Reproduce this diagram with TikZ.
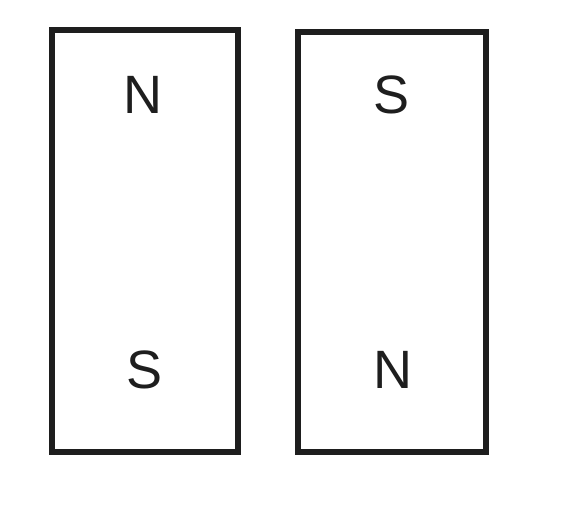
\documentclass[tikz,border=0pt]{standalone}
\usepackage{fontspec}
\setmainfont{Liberation Sans}
\usetikzlibrary{positioning}
\definecolor{magnetdark}{HTML}{1E1E1E}
\tikzset{
  magnet/.style={draw=magnetdark, line width=3pt, fill=white,
                 minimum width=93pt, minimum height=211pt, inner sep=0pt},
  pole/.style={font=\fontsize{27}{30}\selectfont, text=magnetdark},
}
\begin{document}
\begin{tikzpicture}[x=0.5pt, y=-0.5pt]
  \useasboundingbox (0,0) rectangle (568,513);
  \node[magnet] (left) at (144.5,241) {};
  \node[magnet, minimum width=94pt, minimum height=210pt] (right) at (392,242) {};

  \node[pole] (leftN) at (143,95) {N};
  \node[pole] (leftS) at (145,370) {S};
  \node[pole] (rightS) at (392,95) {S};
  \node[pole] (rightN) at (393,370) {N};
\end{tikzpicture}
\end{document}
